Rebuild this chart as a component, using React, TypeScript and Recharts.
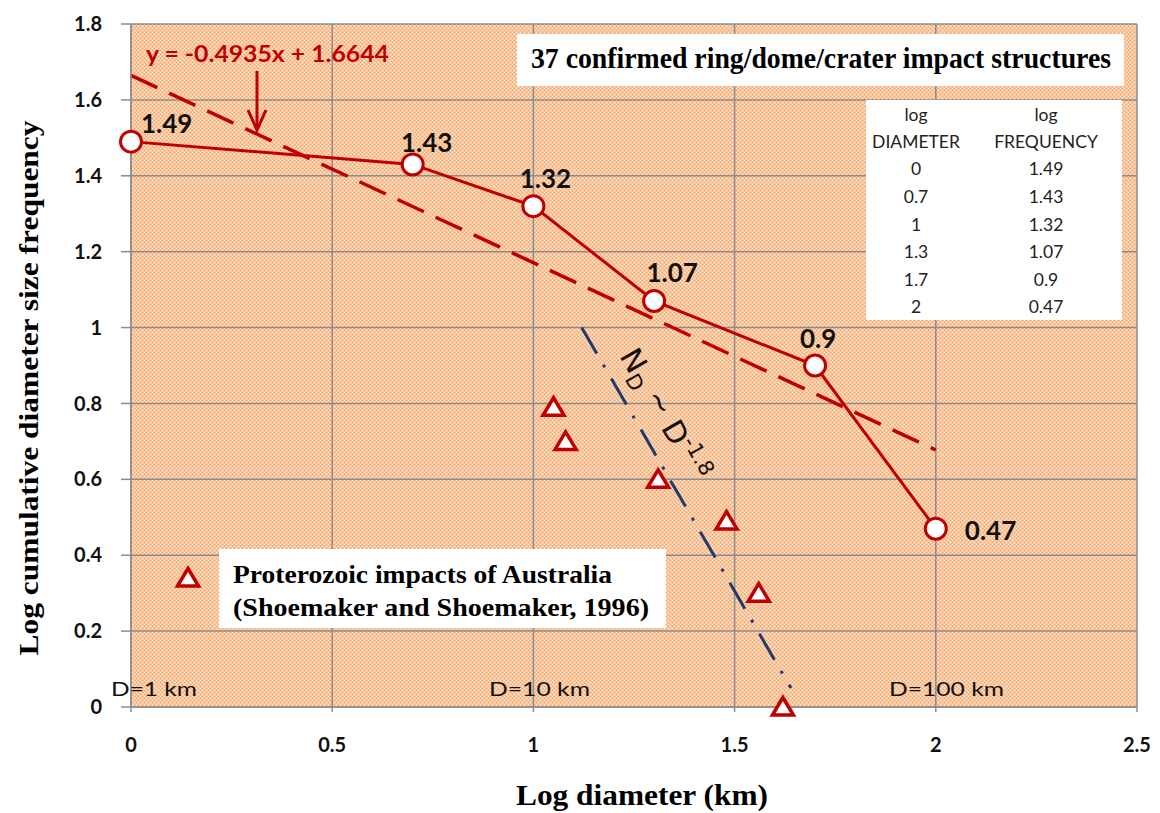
import React from 'react';
import { ComposedChart, Line, Scatter, XAxis, YAxis, CartesianGrid, LabelList } from 'recharts';

// ---- data ----
const logDiameter = [0, 0.7, 1, 1.3, 1.7, 2];
const logFrequency = [1.49, 1.43, 1.32, 1.07, 0.9, 0.47];
const trendX = [0, 2];
const trendY = [1.6644, 0.6774];
const ausDiameter = [1.05, 1.08, 1.31, 1.48, 1.56, 1.62];
const ausFrequency = [0.79, 0.7, 0.6, 0.49, 0.3, 0];
const powerX = [1.12, 1.64];
const powerY = [1.0, 0.05];
const xTicks = [0, 0.5, 1, 1.5, 2, 2.5];
const yTicks = [0, 0.2, 0.4, 0.6, 0.8, 1, 1.2, 1.4, 1.6, 1.8];
const tableHead1 = ['log', 'log'];
const tableHead2 = ['DIAMETER', 'FREQUENCY'];
const regionLabels = ['D=1 km', 'D=10 km', 'D=100 km'];

const mainData = logDiameter.map((x, i) => ({ x, y: logFrequency[i] }));
const trendData = trendX.map((x, i) => ({ x, y: trendY[i] }));
const ausData = ausDiameter.map((x, i) => ({ x, y: ausFrequency[i] }));
const powerData = powerX.map((x, i) => ({ x, y: powerY[i] }));

const RED = '#C00000';
const GRID = '#8c8c8c';
const SANS = 'Lato, "Open Sans", sans-serif';
const SERIF = '"Liberation Serif", "Times New Roman", serif';

// label placement per point (style only)
const labelPlace = [
  { dx: 10, dy: -9, anchor: 'start' },
  { dx: 14, dy: -12, anchor: 'middle' },
  { dx: 12, dy: -18, anchor: 'middle' },
  { dx: 18, dy: -19, anchor: 'middle' },
  { dx: 3, dy: -18, anchor: 'middle' },
  { dx: 29, dy: 11, anchor: 'start' },
];

const renderCircle = (p: any) => (
  <circle key={`c${p.index}`} cx={p.cx} cy={p.cy} r={10.5} fill="#fff" stroke={RED} strokeWidth={3} />
);

const trianglePoints = (cx: number, cy: number) =>
  `${cx},${cy - 9.5} ${cx + 10.5},${cy + 8} ${cx - 10.5},${cy + 8}`;

const renderTriangle = (p: any) => (
  <polygon points={trianglePoints(p.cx, p.cy)} fill="#fff" stroke={RED} strokeWidth={3.5} strokeLinejoin="miter" />
);

const renderLabel = (p: any) => {
  const pl = labelPlace[p.index] || labelPlace[0];
  return (
    <text
      key={`l${p.index}`}
      x={p.x + pl.dx}
      y={p.y + pl.dy}
      textAnchor={pl.anchor}
      fontFamily={SANS}
      fontWeight={700}
      fontSize={26}
      fill="#111"
    >
      {String(p.value)}
    </text>
  );
};

export default function App() {
  const tableRowY = [175, 203, 231, 258, 286, 313];
  return (
    <div style={{ position: 'absolute', left: 0, top: 0, width: 1160, height: 813, background: '#fff' }}>
      <svg width={0} height={0} style={{ position: 'absolute' }}>
        <defs>
          <pattern id="peach" width={4} height={4} patternUnits="userSpaceOnUse">
            <rect width={4} height={4} fill="#F9C69D" />
            <rect x={0} y={0} width={1} height={1} fill="#FFEBD8" />
            <rect x={2} y={2} width={1} height={1} fill="#FFEBD8" />
            <rect x={2} y={0} width={1} height={1} fill="#F2A66E" />
            <rect x={0} y={2} width={1} height={1} fill="#F2A66E" />
          </pattern>
        </defs>
      </svg>
      <ComposedChart width={1160} height={813} margin={{ top: 24, right: 23, bottom: 0, left: 0 }}>
        <CartesianGrid stroke={GRID} strokeWidth={1.5} fill="url(#peach)" fillOpacity={1} />
        <XAxis
          dataKey="x"
          type="number"
          domain={[0, 2.5]}
          ticks={xTicks}
          height={106}
          tickSize={5}
          tickMargin={26}
          axisLine={{ stroke: GRID, strokeWidth: 1.5 }}
          tickLine={{ stroke: GRID, strokeWidth: 1.5 }}
          tick={{ fontFamily: SANS, fontWeight: 700, fontSize: 20, fill: '#111' }}
        />
        <YAxis
          dataKey="y"
          type="number"
          domain={[0, 1.8]}
          ticks={yTicks}
          width={131}
          tickSize={10}
          tickMargin={19}
          axisLine={{ stroke: GRID, strokeWidth: 1.5 }}
          tickLine={{ stroke: GRID, strokeWidth: 1.5 }}
          tick={{ fontFamily: SANS, fontWeight: 700, fontSize: 20, fill: '#111' }}
        />
        <Line
          data={trendData}
          dataKey="y"
          stroke={RED}
          strokeWidth={3.5}
          strokeDasharray="29 13"
          dot={false}
          activeDot={false}
          isAnimationActive={false}
        />
        <Line
          data={mainData}
          dataKey="y"
          stroke={RED}
          strokeWidth={3}
          dot={renderCircle}
          activeDot={false}
          isAnimationActive={false}
        >
          <LabelList dataKey="y" content={renderLabel} />
        </Line>
        <Scatter data={ausData} dataKey="y" shape={renderTriangle} isAnimationActive={false} />
        <Line
          data={powerData}
          dataKey="y"
          stroke="#1F3A6E"
          strokeWidth={3}
          strokeDasharray="30 13 3 13"
          dot={false}
          activeDot={false}
          isAnimationActive={false}
        />
      </ComposedChart>

      <svg width={1160} height={813} style={{ position: 'absolute', left: 0, top: 0, pointerEvents: 'none' }}>
        {/* trendline equation and arrow */}
        <text x={146} y={62} fontFamily={SANS} fontWeight={700} fontSize={23} fill={RED} textLength={243} lengthAdjust="spacingAndGlyphs">
          y = -0.4935x + 1.6644
        </text>
        <line x1={257} y1={71} x2={257} y2={128} stroke={RED} strokeWidth={3} />
        <polyline points="248,110 257,130 266,110" fill="none" stroke={RED} strokeWidth={3} />

        {/* title box */}
        <rect x={517} y={34} width={607} height={52} fill="#fff" />
        <text x={531} y={68} fontFamily={SERIF} fontWeight={700} fontSize={30} fill="#000" textLength={580} lengthAdjust="spacingAndGlyphs">
          37 confirmed  ring/dome/crater  impact  structures
        </text>

        {/* table */}
        <rect x={866} y={100} width={256} height={220} fill="#fff" />
        {[0, 1].map((c) => (
          <g key={`h${c}`} fontFamily={SANS} fontSize={17.5} fill="#222" textAnchor="middle">
            <text x={c === 0 ? 916 : 1046} y={121}>{tableHead1[c]}</text>
            <text x={c === 0 ? 916 : 1046} y={148}>{tableHead2[c]}</text>
          </g>
        ))}
        {logDiameter.map((d, i) => (
          <g key={`r${i}`} fontFamily={SANS} fontSize={17.5} fill="#222" textAnchor="middle">
            <text x={916} y={tableRowY[i]}>{String(d)}</text>
            <text x={1046} y={tableRowY[i]}>{String(logFrequency[i])}</text>
          </g>
        ))}

        {/* legend box */}
        <polygon points={trianglePoints(188, 578)} fill="#fff" stroke={RED} strokeWidth={3.5} />
        <rect x={219} y={549} width={447} height={79} fill="#fff" />
        <text x={233} y={583} fontFamily={SERIF} fontWeight={700} fontSize={26} fill="#000" textLength={379} lengthAdjust="spacingAndGlyphs">
          Proterozoic impacts of Australia
        </text>
        <text x={233} y={616} fontFamily={SERIF} fontWeight={700} fontSize={26} fill="#000" textLength={416} lengthAdjust="spacingAndGlyphs">
          (Shoemaker and Shoemaker, 1996)
        </text>

        {/* power law label */}
        <text x={619} y={356} transform="rotate(60 619 356)" fontFamily='"DejaVu Sans", sans-serif' fontSize={30} fill="#111">
          N<tspan fontSize={21} dy={7}>D</tspan>
          <tspan dy={-9}> ~ </tspan>
          <tspan dy={2}>D</tspan>
          <tspan fontSize={21} dy={-12}>-1.8</tspan>
        </text>

        {/* region labels */}
        <text x={111} y={696} fontFamily={SANS} fontSize={20} fill="#111" textLength={86} lengthAdjust="spacingAndGlyphs">{regionLabels[0]}</text>
        <text x={489} y={696} fontFamily={SANS} fontSize={20} fill="#111" textLength={101} lengthAdjust="spacingAndGlyphs">{regionLabels[1]}</text>
        <text x={889} y={696} fontFamily={SANS} fontSize={20} fill="#111" textLength={115} lengthAdjust="spacingAndGlyphs">{regionLabels[2]}</text>

        {/* axis titles */}
        <text x={642} y={805} textAnchor="middle" fontFamily={SERIF} fontWeight={700} fontSize={29} fill="#000" textLength={252} lengthAdjust="spacingAndGlyphs">
          Log diameter (km)
        </text>
        <text x={-388} y={38} transform="rotate(-90)" textAnchor="middle" fontFamily={SERIF} fontWeight={700} fontSize={28} fill="#000" textLength={535} lengthAdjust="spacingAndGlyphs">
          Log cumulative diameter size frequency
        </text>
      </svg>
    </div>
  );
}
